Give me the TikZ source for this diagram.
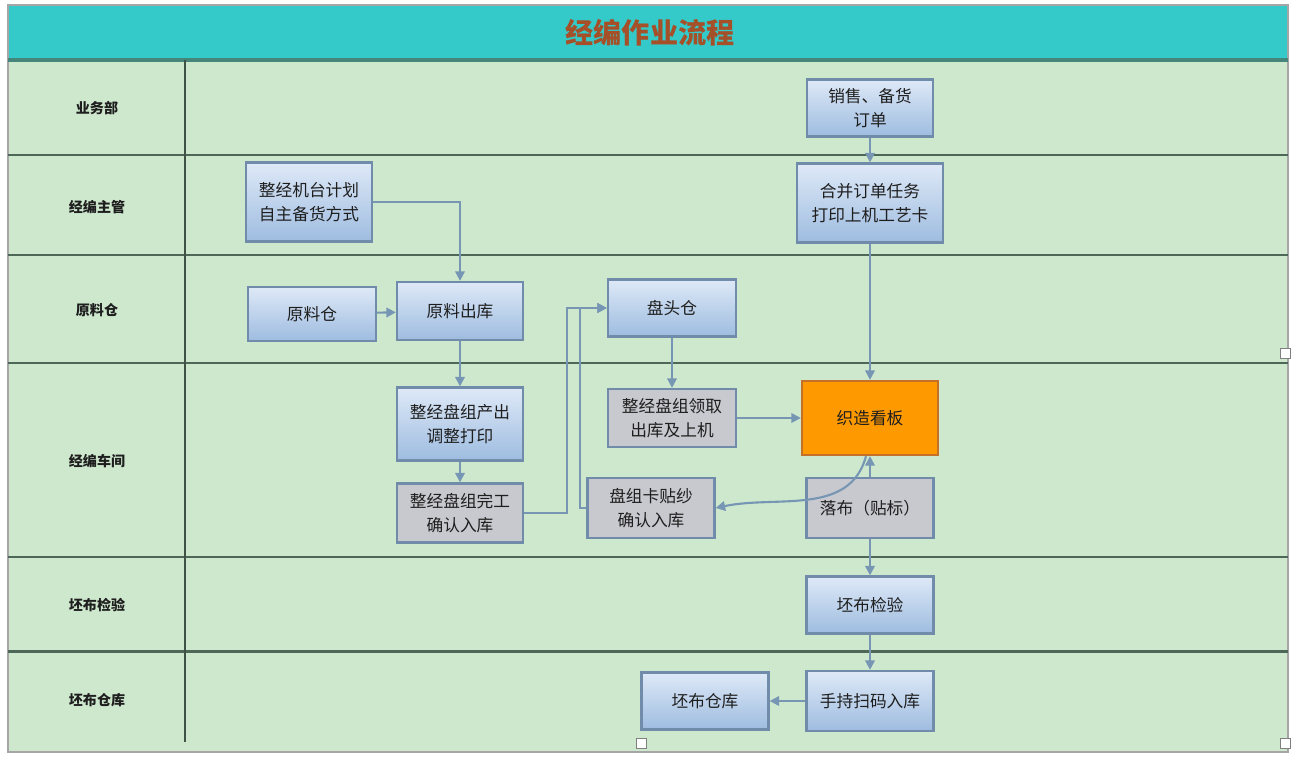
\documentclass[tikz,border=0pt]{standalone}
\usepackage{fontspec}
\setmainfont{Noto Sans CJK SC}
\usetikzlibrary{arrows.meta}

\definecolor{lanebg}{RGB}{206,232,206}
\definecolor{titlebg}{RGB}{52,202,202}
\definecolor{titletext}{RGB}{165,80,40}
\definecolor{laneline}{RGB}{78,104,88}
\definecolor{boxline}{RGB}{112,140,170}
\definecolor{bluetop}{RGB}{222,233,247}
\definecolor{bluebot}{RGB}{158,188,224}
\definecolor{grayfill}{RGB}{200,200,207}
\definecolor{orangefill}{RGB}{255,153,0}
\definecolor{orangeline}{RGB}{196,112,40}
\definecolor{flowline}{RGB}{118,150,180}
\definecolor{boxtext}{RGB}{30,30,30}

\begin{document}
\begin{tikzpicture}[x=0.02cm, y=-0.02cm]
	\tikzset{box/.style={draw=boxline, line width=1.3pt, top color=bluetop, bottom color=bluebot, align=center, inner sep=0pt, text=boxtext, font=\fontsize{9.5}{14}\selectfont}}
	\tikzset{graybox/.style={box, top color=grayfill, bottom color=grayfill}}
	\tikzset{hotbox/.style={box, draw=orangeline, top color=orangefill, bottom color=orangefill}}
	\tikzset{lanelabel/.style={text=boxtext, font=\fontsize{8}{10}\selectfont\bfseries}}
	\tikzset{flow/.style={draw=flowline, line width=1.2pt, -{Triangle[length=1.9mm, width=1.9mm]}}}
	\tikzset{handle/.style={draw=black!50, fill=white, line width=0.4pt, minimum size=0.2cm, inner sep=0pt}}
	\useasboundingbox (0,0) rectangle (1300,763);

	% lanes
	\fill[white] (0,0) rectangle (1300,763);
	\fill[lanebg] (8,60) rectangle (1288,752);
	\fill[titlebg] (8,5) rectangle (1288,60);
	\draw[black!35, line width=0.6pt] (8,5) rectangle (1288,752);
	\draw[laneline!70!titlebg, line width=2pt] (8,60) -- (1288,60);
	\foreach \y in {155,255,363,557,651}
		\draw[laneline, line width=1.7pt] (8,\y) -- (1288,\y);
	\draw[laneline!80!black, line width=0.8pt] (185,60) -- (185,742);

	\node[text=titletext, font=\fontsize{16}{18}\selectfont\bfseries] (title) at (650,33) {经编作业流程};

	\node[lanelabel] (l1) at (97,108) {业务部};
	\node[lanelabel] (l2) at (97,207) {经编主管};
	\node[lanelabel] (l3) at (97,310) {原料仓};
	\node[lanelabel] (l4) at (97,461) {经编车间};
	\node[lanelabel] (l5) at (97,605) {坯布检验};
	\node[lanelabel] (l6) at (97,700) {坯布仓库};

	% boxes
	\node[box, minimum width=2.52cm, minimum height=1.14cm] (order) at (870,108) {销售、备货\\订单};
	\node[box, minimum width=2.92cm, minimum height=1.58cm] (merge) at (870,203) {合并订单任务\\打印上机工艺卡};
	\node[box, minimum width=2.52cm, minimum height=1.58cm] (plan) at (309,202) {整经机台计划\\自主备货方式};
	\node[box, minimum width=2.56cm, minimum height=1.08cm] (raw) at (312,314) {原料仓};
	\node[box, minimum width=2.52cm, minimum height=1.16cm] (rawout) at (460,311) {原料出库};
	\node[box, minimum width=2.56cm, minimum height=1.14cm] (beam) at (672,308) {盘头仓};
	\node[box, minimum width=2.52cm, minimum height=1.46cm] (warp) at (460,424) {整经盘组产出\\调整打印};
	\node[graybox, minimum width=2.56cm, minimum height=1.16cm] (take) at (672,418) {整经盘组领取\\出库及上机};
	\node[hotbox, minimum width=2.72cm, minimum height=1.48cm] (board) at (870,418) {织造看板};
	\node[graybox, minimum width=2.52cm, minimum height=1.18cm] (done) at (460,513) {整经盘组完工\\确认入库};
	\node[graybox, minimum width=2.54cm, minimum height=1.2cm] (card) at (651,508) {盘组卡贴纱\\确认入库};
	\node[graybox, minimum width=2.54cm, minimum height=1.2cm] (drop) at (870,508) {落布（贴标）};
	\node[box, minimum width=2.54cm, minimum height=1.14cm] (check) at (870,605) {坯布检验};
	\node[box, minimum width=2.54cm, minimum height=1.2cm] (scan) at (870,701) {手持扫码入库};
	\node[box, minimum width=2.54cm, minimum height=1.14cm] (grey) at (705,701) {坯布仓库};

	% connectors
	\coordinate (j1) at (567,308);
	\coordinate (j2) at (580,308);
	\draw[flow] (order) -- (merge);
	\draw[flow] (merge) -- (board);
	\draw[flow] (plan.east) -| (rawout.north);
	\draw[flow] (raw) -- (rawout);
	\draw[flow] (rawout) -- (warp);
	\draw[flow] (warp) -- (done);
	\draw[flow] (done.east) -| (j1) -- (beam.west);
	\draw[flow] (card.west) -| (j2) -- (beam.west);
	\draw[flow] (beam) -- (take);
	\draw[flow] (take) -- (board);
	\draw[flow] (drop) -- (board);
	\draw[flow] ([xshift=-0.08cm]board.south) to[out=-105, in=12] (card.east);
	\draw[flow] (drop) -- (check);
	\draw[flow] (check) -- (scan);
	\draw[flow] (scan) -- (grey);

	\node[handle] (h1) at (641,743) {};
	\node[handle] (h2) at (1285,353) {};
	\node[handle] (h3) at (1285,743) {};
\end{tikzpicture}
\end{document}
